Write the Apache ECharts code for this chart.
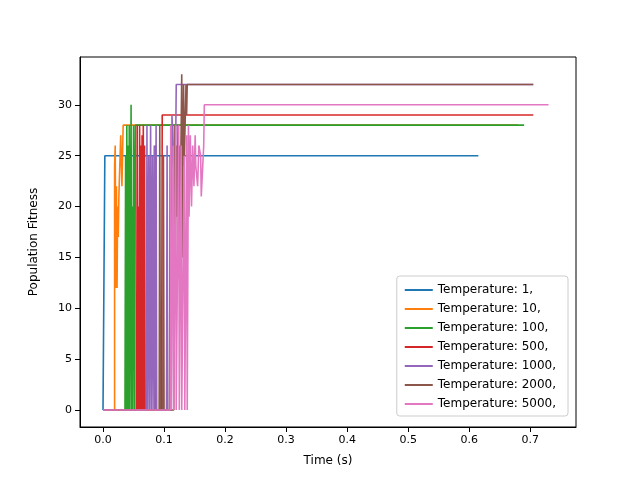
<!DOCTYPE html>
<html><head><meta charset="utf-8">
<script src="https://cdn.jsdelivr.net/npm/echarts@6/dist/echarts.min.js"></script>
<style>body{margin:0}#c{width:640px;height:480px}</style></head>
<body><div id="c"></div>
<script>
var names = ['Temperature: 1,', 'Temperature: 10,', 'Temperature: 100,', 'Temperature: 500,',
  'Temperature: 1000,', 'Temperature: 2000,', 'Temperature: 5000,'];
var colors = ['#1f77b4', '#ff7f0e', '#2ca02c', '#d62728', '#9467bd', '#8c564b', '#e377c2'];
var xTicks = [0, 0.1, 0.2, 0.3, 0.4, 0.5, 0.6, 0.7];
var yTicks = [0, 5, 10, 15, 20, 25, 30];

var t1 = [[0,0],[0.003,0],[0.003,25],[0.615,25]];
var t10 = [[0,0],[0.019,0],[0.019,24],[0.020,24],[0.020,26],[0.021,12],[0.022,22],[0.023,12],[0.024,20],
  [0.025,17],[0.026,21],[0.028,21],[0.029,27],[0.031,22],[0.032,25],[0.033,28],[0.68,28]];
var t100 = [[0,0],[0.036,0],[0.037,25],[0.038,0],[0.039,28],[0.040,0],[0.041,26],[0.042,0],[0.043,28],
  [0.044,0],[0.046,30],[0.047,0],[0.048,20],[0.049,0],[0.050,28],[0.051,19],[0.052,0],[0.053,28],
  [0.062,28],[0.063,28],[0.69,28]];
var t500 = [[0,0],[0.055,0],[0.056,28],[0.057,0],[0.058,20],[0.059,0],[0.060,28],[0.061,0],[0.062,26],
  [0.063,0],[0.064,27],[0.065,0],[0.066,28],[0.067,0],[0.068,26],[0.069,0],[0.085,0],[0.086,26],
  [0.087,0],[0.096,0],[0.097,29],[0.705,29]];
var t1000 = [[0,0],[0.071,0],[0.072,28],[0.073,0],[0.075,25],[0.076,0],[0.078,28],[0.079,0],[0.081,25],
  [0.082,0],[0.084,26],[0.085,0],[0.087,28],[0.088,0],[0.104,0],[0.105,26],[0.106,0],[0.112,0],
  [0.113,29],[0.118,20],[0.120,32],[0.705,32]];
var t2000 = [[0,0],[0.092,0],[0.093,28],[0.094,0],[0.098,0],[0.099,25],[0.100,0],[0.109,0],[0.110,25],
  [0.111,0],[0.116,0],[0.117,28],[0.118,10],[0.120,26],[0.121,19],[0.123,28],[0.124,13],
  [0.126,26],[0.127,22],[0.129,33],[0.130,15],[0.132,32],[0.133,24],[0.136,32],[0.137,29],[0.138,32],[0.705,32]];
var t5000 = [[0,0],[0.110,0],[0.111,28],[0.112,0],[0.115,26],[0.116,0],[0.119,28],[0.120,0],[0.124,28],
  [0.125,0],[0.128,26],[0.129,0],[0.133,25],[0.134,0],[0.137,27],[0.138,0],[0.140,28],[0.141,19],
  [0.143,27],[0.145,20],[0.147,26],[0.149,22],[0.151,27],[0.152,24],[0.155,22],[0.157,26],
  [0.160,25],[0.161,21],[0.165,26],[0.166,30],[0.73,30]];
var series = [t1, t10, t100, t500, t1000, t2000, t5000];

var chart = echarts.init(document.getElementById('c'));
chart.setOption({
  animation: false,
  color: colors,
  textStyle: {fontFamily: 'DejaVu Sans'},
  grid: {left: 80, right: 64, top: 57, bottom: 53, show: true, borderColor: '#000', borderWidth: 1},
  xAxis: {type: 'value', min: -0.0377, max: 0.775,
    name: 'Time (s)', nameLocation: 'middle', nameGap: 28,
    nameTextStyle: {fontSize: 12, color: '#000'},
    axisLine: {onZero: false, lineStyle: {color: '#000'}},
    axisTick: {customValues: xTicks, lineStyle: {color: '#000'}},
    axisLabel: {customValues: xTicks, color: '#000', fontSize: 11,
      formatter: function (v) { return v.toFixed(1); }},
    splitLine: {show: false}},
  yAxis: {type: 'value', min: -1.67, max: 34.7,
    name: 'Population Fitness', nameLocation: 'middle', nameGap: 40,
    nameTextStyle: {fontSize: 12, color: '#000'},
    axisLine: {show: true, onZero: false, lineStyle: {color: '#000'}},
    axisTick: {show: true, customValues: yTicks, lineStyle: {color: '#000'}},
    axisLabel: {customValues: yTicks, color: '#000', fontSize: 11},
    splitLine: {show: false}},
  legend: {orient: 'vertical', right: 72, bottom: 64, itemWidth: 28, itemHeight: 2, itemGap: 7,
    icon: 'rect', borderColor: '#ccc', borderWidth: 1, borderRadius: 3, padding: [8, 12, 6, 8],
    backgroundColor: 'rgba(255,255,255,0.8)',
    textStyle: {fontSize: 12, color: '#000'}, data: names},
  series: series.map(function (d, i) {
    return {name: names[i], type: 'line', data: d, showSymbol: false, symbol: 'none',
      lineStyle: {width: 1.6, color: colors[i]}};
  })
});
</script></body></html>
